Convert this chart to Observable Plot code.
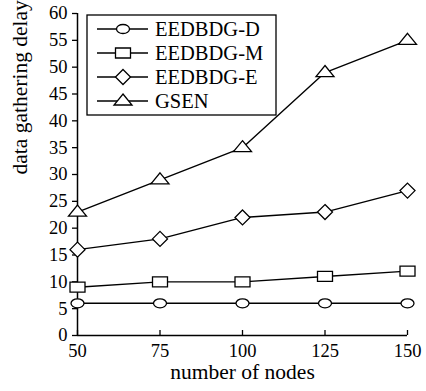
<!DOCTYPE html>
<html><head><meta charset="utf-8">
<script src="https://cdn.jsdelivr.net/npm/d3@7"></script>
<script src="https://cdn.jsdelivr.net/npm/@observablehq/plot@0.6"></script>
<style>body{margin:0;background:#fff} svg{display:block}</style>
</head><body><div id="chart"></div>
<script>
const nodes = [50, 75, 100, 125, 150];
const seriesNames = ["EEDBDG-D", "EEDBDG-M", "EEDBDG-E", "GSEN"];
const delayD = [6, 6, 6, 6, 6];
const delayM = [9, 10, 10, 11, 12];
const delayE = [16, 18, 22, 23, 27];
const delayGSEN = [23, 29, 35, 49, 55];
const yTicks = [0, 5, 10, 15, 20, 25, 30, 35, 40, 45, 50, 55, 60];
const xLabel = "number of nodes";
const yLabel = "data gathering delay";

const FONT = "Liberation Serif";
const K = 0.5523;
const symEllipse = {draw(c) { const rx = 6.5, ry = 4.5;
  c.moveTo(rx, 0);
  c.bezierCurveTo(rx, K*ry, K*rx, ry, 0, ry);
  c.bezierCurveTo(-K*rx, ry, -rx, K*ry, -rx, 0);
  c.bezierCurveTo(-rx, -K*ry, -K*rx, -ry, 0, -ry);
  c.bezierCurveTo(K*rx, -ry, rx, -K*ry, rx, 0);
  c.closePath(); }};
const symSquare = {draw(c) { c.moveTo(-7.5, -5); c.lineTo(7.5, -5); c.lineTo(7.5, 5); c.lineTo(-7.5, 5); c.closePath(); }};
const symDiamond = {draw(c) { c.moveTo(0, -7.5); c.lineTo(7.5, 0); c.lineTo(0, 7.5); c.lineTo(-7.5, 0); c.closePath(); }};
const symTriangle = {draw(c) { c.moveTo(0, -7); c.lineTo(9, 4); c.lineTo(-9, 4); c.closePath(); }};
const symbols = [symEllipse, symSquare, symDiamond, symTriangle];
const allValues = [delayD, delayM, delayE, delayGSEN];

const rows = [];
seriesNames.forEach((s, i) => nodes.forEach((n, j) => rows.push({series: s, k: i, nodes: n, delay: allValues[i][j]})));

const marks = [
  Plot.ruleX([50], {stroke: "black", strokeWidth: 1.5}),
  Plot.ruleY([0], {stroke: "black", strokeWidth: 1.5}),
  Plot.axisY({ticks: yTicks, tickSize: 5, tickPadding: 5, tickFormat: d3.format("d"), label: null, fontSize: 18.5, strokeWidth: 1.3}),
  Plot.axisX({ticks: nodes, tickSize: -5, tickFormat: () => "", label: null, strokeWidth: 1.3}),
  Plot.axisX({ticks: nodes, tickSize: 0, tickPadding: 8, tickFormat: d3.format("d"), label: null, fontSize: 18.5}),
  Plot.text([yLabel], {frameAnchor: "left", rotate: -90, dx: -57, fontSize: 21.5, text: d => d}),
  Plot.text([xLabel], {frameAnchor: "bottom", dy: 43, fontSize: 21.5, text: d => d})
];
seriesNames.forEach((s, i) => {
  const data = rows.filter(r => r.k === i);
  marks.push(Plot.line(data, {x: "nodes", y: "delay", stroke: "black", strokeWidth: 1.4}));
  marks.push(Plot.dot(data, {x: "nodes", y: "delay", symbol: symbols[i], fill: "white", stroke: "black", strokeWidth: 1.3}));
});

const chart = Plot.plot({
  width: 426, height: 391,
  marginLeft: 77, marginRight: 19, marginTop: 13, marginBottom: 56,
  style: {fontFamily: FONT, color: "black", background: "white", overflow: "visible"},
  x: {domain: [50, 150]},
  y: {domain: [0, 60]},
  marks
});
chart.setAttribute("font-family", FONT);
document.getElementById("chart").appendChild(chart);

// legend
const svg = d3.select(chart);
const lg = svg.append("g");
lg.append("rect").attr("x", 87).attr("y", 15).attr("width", 189).attr("height", 100)
  .attr("fill", "white").attr("stroke", "black").attr("stroke-width", 1.3);
seriesNames.forEach((s, i) => {
  const y = 29 + i * 24;
  lg.append("line").attr("x1", 97).attr("x2", 148).attr("y1", y).attr("y2", y).attr("stroke", "black").attr("stroke-width", 1.4);
  lg.append("path").attr("d", d3.symbol(symbols[i])()).attr("transform", `translate(123,${y})`)
    .attr("fill", "white").attr("stroke", "black").attr("stroke-width", 1.3);
  lg.append("text").attr("x", 155).attr("y", y).attr("dy", "0.35em").attr("font-size", 20.5)
    .attr("text-anchor", "start").attr("font-family", FONT).attr("fill", "black").text(s);
});
</script></body></html>
